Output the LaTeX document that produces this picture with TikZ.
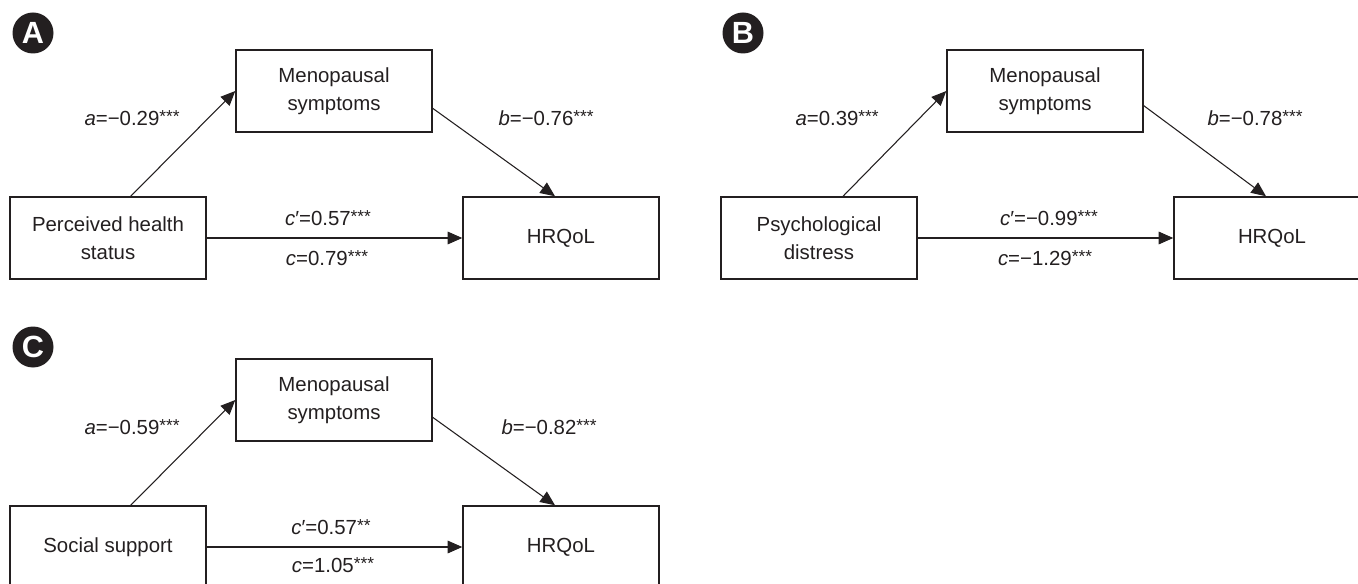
\documentclass[tikz,border=0pt]{standalone}
\usepackage{fontspec}
\setmainfont{Liberation Sans}
\usetikzlibrary{arrows.meta}
\definecolor{inkgray}{RGB}{35,31,32}
\tikzset{every picture/.style={line width=0.75pt}}
\tikzset{
  varbox/.style={draw=inkgray, line width=1.1pt, minimum width=147pt, minimum height=61.5pt, inner sep=0pt, align=center, text=inkgray, font=\fontsize{15.3}{21}\selectfont},
  pathlbl/.style={inner sep=0.75pt, text=inkgray, font=\fontsize{15.3}{18}\selectfont},
  badge/.style={circle, fill=inkgray, minimum size=30.75pt, inner sep=0pt, text=white, font=\fontsize{23}{23}\selectfont\bfseries},
  effect/.style={-{Triangle[length=11pt,width=9.5pt]}, line width=0.8pt, draw=inkgray}
}
\newcommand{\sig}[1]{\raisebox{0.12em}{\fontsize{13}{13}\selectfont #1}}

\begin{document}
\begin{tikzpicture}[x=0.75pt,y=0.75pt,yscale=-1,xscale=1]
\clip (0,0) rectangle (1358,584);

%Shape: Circle [panel badges]
\node[badge] (bdgA) at (33,33) {A};
\node[badge] (bdgB) at (743,33) {B};
\node[badge] (bdgC) at (33,347) {C};

%Shape: Rectangle [panel A]
\node[varbox] (medA) at (334,91) {Menopausal\\symptoms};
\node[varbox] (xA) at (108,238) {Perceived health\\status};
\node[varbox] (yA) at (561,238) {HRQoL};
%Shape: Rectangle [panel B]
\node[varbox] (medB) at (1045,91) {Menopausal\\symptoms};
\node[varbox] (xB) at (819,238) {Psychological\\distress};
\node[varbox] (yB) at (1272,238) {HRQoL};
%Shape: Rectangle [panel C]
\node[varbox] (medC) at (334,400) {Menopausal\\symptoms};
\node[varbox] (xC) at (108,547) {Social support};
\node[varbox] (yC) at (561,547) {HRQoL};

%Straight Lines [panel A]
\draw[effect] ([xshift=17pt]xA.north) -- (medA.west);
\draw[effect] ([yshift=13pt]medA.east) -- ([xshift=-4.5pt]yA.north);
\draw[effect] (xA.east) -- (yA.west);
%Straight Lines [panel B]
\draw[effect] ([xshift=18pt]xB.north) -- (medB.west);
\draw[effect] ([yshift=11pt]medB.east) -- ([xshift=-4.5pt]yB.north);
\draw[effect] (xB.east) -- (yB.west);
%Straight Lines [panel C]
\draw[effect] ([xshift=17pt]xC.north) -- (medC.west);
\draw[effect] ([yshift=13pt]medC.east) -- ([xshift=-4.5pt]yC.north);
\draw[effect] (xC.east) -- (yC.west);

% Text Node
\node[pathlbl, anchor=west] (aA) at (83,118) {\textit{a}=−0.29\sig{***}};
% Text Node
\node[pathlbl, anchor=west] (bA) at (497,118) {\textit{b}=−0.76\sig{***}};
% Text Node
\node[pathlbl] (cpA) at (328,218) {\textit{c}′=0.57\sig{***}};
% Text Node
\node[pathlbl] (cA) at (327,258) {\textit{c}=0.79\sig{***}};
% Text Node
\node[pathlbl, anchor=west] (aB) at (794,118) {\textit{a}=0.39\sig{***}};
% Text Node
\node[pathlbl, anchor=west] (bB) at (1206,118) {\textit{b}=−0.78\sig{***}};
% Text Node
\node[pathlbl] (cpB) at (1049,218) {\textit{c}′=−0.99\sig{***}};
% Text Node
\node[pathlbl] (cB) at (1045,258) {\textit{c}=−1.29\sig{***}};
% Text Node
\node[pathlbl, anchor=west] (aC) at (83,427) {\textit{a}=−0.59\sig{***}};
% Text Node
\node[pathlbl, anchor=west] (bC) at (500,427) {\textit{b}=−0.82\sig{***}};
% Text Node
\node[pathlbl] (cpC) at (331,527) {\textit{c}′=0.57\sig{**}};
% Text Node
\node[pathlbl] (cC) at (333,565) {\textit{c}=1.05\sig{***}};

\end{tikzpicture}
\end{document}
